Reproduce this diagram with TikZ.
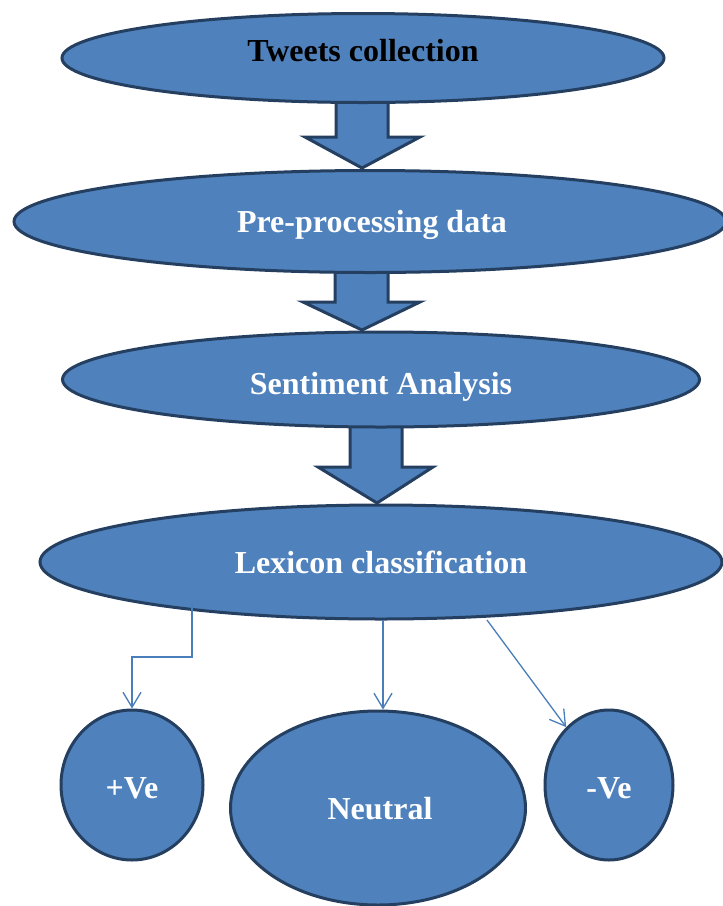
\documentclass[tikz,border=0pt]{standalone}
\usepackage{fontspec}
\setmainfont{Liberation Serif}
\usetikzlibrary{shapes.geometric,arrows.meta}
\definecolor{boxfill}{HTML}{4F81BD}
\definecolor{boxedge}{HTML}{243F60}
\definecolor{connblue}{HTML}{4A7EBB}
\tikzset{
  oval/.style={ellipse, draw=boxedge, fill=boxfill, line width=3pt, inner sep=0pt},
  lbl/.style={font=\fontsize{32}{34}\selectfont\bfseries, text=white, inner sep=0pt,
    text height=22pt, text depth=0pt},
  blockarrow/.style={draw=boxedge, fill=boxfill, line width=3pt, line join=miter},
  conn/.style={draw=connblue, line width=1.3pt, -{Straight Barb[length=15pt,width=18pt,line width=1.3pt]}}
}
\begin{document}
\begin{tikzpicture}[x=1pt,y=-1pt]
\useasboundingbox (0,0) rectangle (723,906);
% block arrows
\draw[blockarrow] (336,100) -- (336,137) -- (305,137) -- (362,168) -- (420,137) -- (388,137) -- (388,100) -- cycle;
\draw[blockarrow] (335,268) -- (335,302) -- (303,302) -- (362,330) -- (420,302) -- (388,302) -- (388,268) -- cycle;
\draw[blockarrow] (350,425) -- (350,467) -- (318,467) -- (377,503) -- (433,467) -- (402,467) -- (402,425) -- cycle;
% main ellipses
\node[oval, minimum width=602pt, minimum height=89pt,
  label={[lbl, text=black, yshift=8pt]center:Tweets collection}] (tw) at (363,58) {};
\node[oval, minimum width=712pt, minimum height=102pt,
  label={[lbl, xshift=2pt]center:Pre-processing data}] (pre) at (370,221.5) {};
\node[oval, minimum width=637pt, minimum height=95pt,
  label={[lbl, yshift=-3.5pt]center:Sentiment Analysis}] (sen) at (381,379.5) {};
\node[oval, minimum width=682pt, minimum height=114pt,
  label={[lbl]center:Lexicon classification}] (lex) at (381,562) {};
% outcome ellipses
\node[oval, minimum width=142pt, minimum height=150pt,
  label={[lbl, yshift=-2.5pt]center:+Ve}] (pos) at (132,785) {};
\node[oval, minimum width=295pt, minimum height=194pt,
  label={[lbl, xshift=2pt]center:Neutral}] (neu) at (378,808) {};
\node[oval, minimum width=128pt, minimum height=150pt,
  label={[lbl, yshift=-2.5pt]center:-Ve}] (neg) at (609,785) {};
% connectors
\coordinate (s1) at (192,603);
\coordinate (k1) at (192,657);
\coordinate (s2) at (383,620);
\coordinate (s3) at (487,620);
\draw[conn] (s1) -- (k1) -| (pos.north);
\draw[conn] (s2) -- (s2 |- neu.north);
\draw[conn] (s3) -- (neg);
\end{tikzpicture}
\end{document}
